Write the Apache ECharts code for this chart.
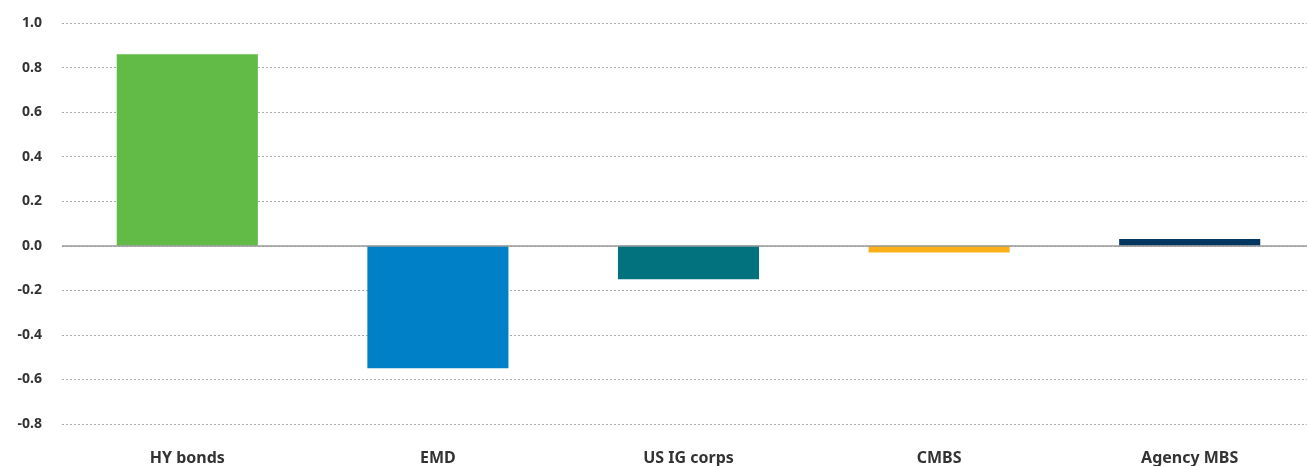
<!DOCTYPE html>
<html>
<head>
<meta charset="utf-8">
<script src="https://cdn.jsdelivr.net/npm/echarts@6/dist/echarts.min.js"></script>
<style>
  html, body { margin: 0; padding: 0; background: #fff; overflow: hidden; }
  #chart { width: 1315px; height: 466px; }
</style>
</head>
<body>
<div id="chart"></div>
<script>
    const categories = ['HY bonds', 'EMD', 'US IG corps', 'CMBS', 'Agency MBS'];
    const values = [0.86, -0.55, -0.15, -0.03, 0.03];
    const barColors = ['#62bb46', '#0080c6', '#03727f', '#fbb01a', '#003660'];

    const myChart = echarts.init(document.getElementById('chart'));
    const option = {
        animation: false,
        grid: { left: 62, right: 0, top: 23, bottom: 41, containLabel: false },
        xAxis: {
            type: 'category',
            data: categories,
            axisLine: { show: false, onZero: false },
            axisTick: { show: false },
            axisLabel: {
                interval: 0,
                margin: 26,
                color: '#333',
                fontFamily: 'Noto Sans',
                fontWeight: 'bold',
                fontSize: 16
            }
        },
        yAxis: {
            type: 'value',
            min: -0.8,
            max: 1.0,
            interval: 0.2,
            axisLine: { show: false },
            axisTick: { show: false },
            axisLabel: {
                color: '#333',
                fontFamily: 'Noto Sans',
                fontWeight: 'bold',
                fontSize: 14,
                margin: 20,
                formatter: function (v) { return v.toFixed(1); }
            },
            splitLine: { lineStyle: { color: '#aaa', type: [2, 2], width: 1 } }
        },
        series: [{
            type: 'bar',
            barWidth: '56.3%',
            data: values.map((v, i) => ({ value: v, itemStyle: { color: barColors[i] } })),
            markLine: {
                silent: true,
                symbol: 'none',
                label: { show: false },
                lineStyle: { color: '#9a9a9a', type: 'solid', width: 1.5 },
                data: [{ yAxis: 0 }]
            }
        }]
    };
    myChart.setOption(option);
</script>
</body>
</html>
